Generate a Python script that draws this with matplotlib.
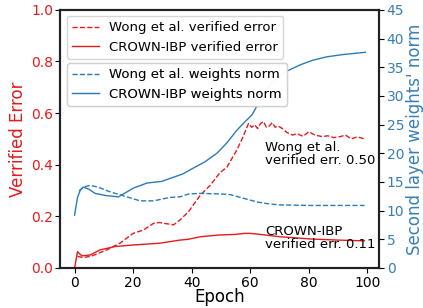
import matplotlib
matplotlib.use("Agg")
import matplotlib.pyplot as plt
import numpy as np

# Data
wong_err_ep = [1, 3, 6, 11, 15.5, 20, 23.5, 27, 29, 33.8, 36, 38.9, 43, 46.3, 49.7, 52, 55.4, 57.2, 59.4, 60.5, 61.5, 62.5, 63.5, 64.5, 65.5, 66.5, 67.5, 68.5, 69.5, 71, 72.5, 74.4, 76, 78, 80, 82, 84.6, 86.5, 88.5, 90.8, 92.5, 94.5, 96.5, 99]
wong_err = [0.045, 0.04, 0.047, 0.07, 0.096, 0.134, 0.147, 0.173, 0.176, 0.167, 0.186, 0.218, 0.283, 0.32, 0.37, 0.39, 0.457, 0.50, 0.56, 0.545, 0.555, 0.54, 0.56, 0.567, 0.545, 0.55, 0.563, 0.545, 0.55, 0.54, 0.525, 0.515, 0.52, 0.51, 0.528, 0.515, 0.509, 0.512, 0.505, 0.509, 0.515, 0.50, 0.508, 0.50]

crown_err_ep = [0, 1, 2.5, 5.3, 8.7, 13.8, 20, 29.2, 36, 38.8, 43, 49.7, 55, 58, 60, 65, 70, 75, 81, 90, 99]
crown_err = [0.0, 0.063, 0.047, 0.05, 0.07, 0.083, 0.089, 0.096, 0.108, 0.111, 0.121, 0.128, 0.13, 0.134, 0.134, 0.128, 0.121, 0.117, 0.112, 0.108, 0.105]

wong_norm_ep = [1.5, 3, 5.3, 8, 12, 17.8, 22.4, 27, 32.6, 36, 38.9, 42.9, 49.7, 53, 56.6, 59.5, 62.3, 66, 70, 80, 90, 99]
wong_norm = [13.4, 14.1, 14.4, 14.1, 13.3, 12.4, 11.7, 11.7, 12.3, 12.4, 12.9, 13.0, 12.9, 12.8, 12.3, 11.9, 11.5, 11.2, 11.0, 10.9, 10.9, 10.9]

crown_norm_ep = [0, 1, 2, 3, 5, 7, 11, 15, 20, 24.7, 29.8, 37, 40.5, 44.5, 48.6, 52, 55.4, 58, 60.6, 63.4, 65.5, 67.4, 70, 72, 77, 81.2, 86, 91.5, 99.3]
crown_norm = [9.2, 12.3, 13.6, 14.1, 13.7, 13.0, 12.6, 12.4, 13.9, 14.8, 15.1, 16.4, 17.4, 18.5, 20.0, 21.8, 24.0, 25.4, 26.7, 29.3, 31.0, 32.3, 33.6, 34.2, 35.4, 36.2, 36.8, 37.2, 37.6]

RED = "#e41a1c"
BLUE = "#377eb8"
LRED = "#e41a1c"
LBLUE = "#2b7bba"

fig = plt.figure(figsize=(4.23, 3.08), dpi=100)
ax = fig.add_axes([0.142, 0.130, 0.754, 0.838])
ax2 = ax.twinx()

l1, = ax.plot(wong_err_ep, wong_err, color=LRED, ls="--", lw=1, label="Wong et al. verified error")
l2, = ax.plot(crown_err_ep, crown_err, color=LRED, ls="-", lw=1, label="CROWN-IBP verified error")
l3, = ax2.plot(wong_norm_ep, wong_norm, color=LBLUE, ls="--", lw=1, label="Wong et al. weights norm")
l4, = ax2.plot(crown_norm_ep, crown_norm, color=LBLUE, ls="-", lw=1, label="CROWN-IBP weights norm")

ax.set_ylim(0, 1.0)
ax2.set_ylim(0, 45)
ax.set_xlim(-4.95, 103.95)
ax.set_xticks([0, 20, 40, 60, 80, 100])
ax.set_yticks([0, 0.2, 0.4, 0.6, 0.8, 1.0])
ax2.set_yticks(range(0, 50, 5))

ax.tick_params(axis="y", labelcolor=RED, color="black", labelsize=10, pad=1.5)
ax.tick_params(axis="x", labelsize=10, pad=2)
ax2.tick_params(axis="y", labelcolor=BLUE, color="black", labelsize=10, pad=2)

ax.set_xlabel("Epoch", fontsize=12, labelpad=-1)
ax.set_ylabel("Verrified Error", color=RED, fontsize=12, labelpad=3)
ax2.set_ylabel("Second layer weights' norm", color=BLUE, fontsize=12, labelpad=1)

for a in (ax, ax2):
    for s in a.spines.values():
        s.set_linewidth(1.5)
        s.set_color("#222222")

W, H = 319.0, 258.0
leg_kw = dict(loc="upper left", fontsize=9.5, handlelength=2.0, borderaxespad=0.0)
leg1 = ax2.legend(handles=[l1, l2], bbox_to_anchor=(7 / W, 1 - 6 / H), **leg_kw)
ax2.add_artist(leg1)
leg2 = ax2.legend(handles=[l3, l4], bbox_to_anchor=(7 / W, 1 - 53 / H), **leg_kw)
ax2.add_artist(leg2)

ax.text(65.1, 0.442, "Wong et al.\nverified err. 0.50", fontsize=9.5, va="center", ha="left", linespacing=0.95)
ax.text(65.1, 0.116, "CROWN-IBP\nverified err. 0.11", fontsize=9.5, va="center", ha="left", linespacing=0.95)

fig.savefig("out.png", dpi=100)
